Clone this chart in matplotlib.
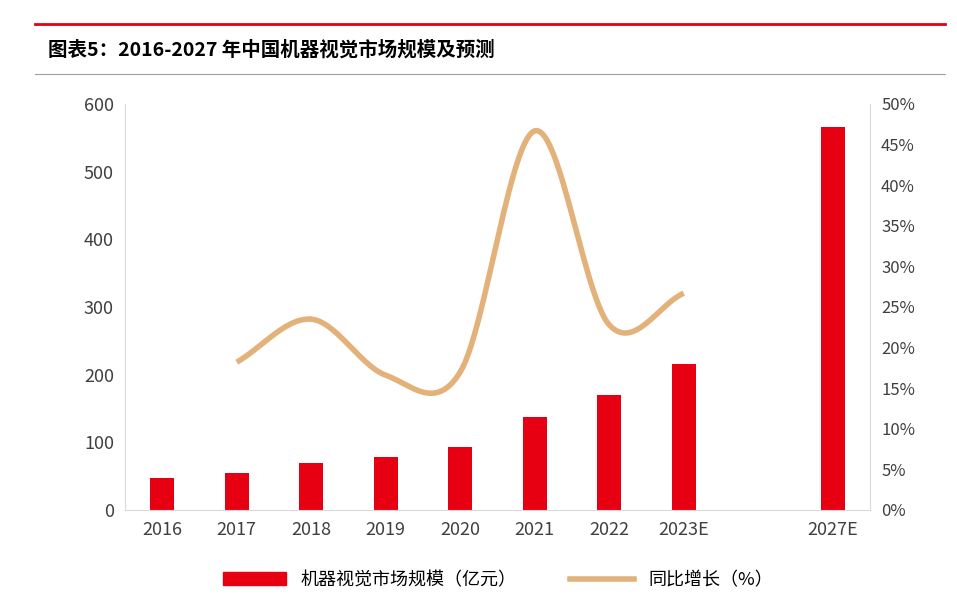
import numpy as np
import matplotlib.pyplot as plt
from matplotlib.lines import Line2D
from matplotlib.patches import Patch

plt.rcParams['font.family'] = ['Noto Sans CJK SC', 'DejaVu Sans']

categories = ["2016", "2017", "2018", "2019", "2020", "2021", "2022", "2023E", "", "2027E"]
market_size = [47, 54, 69, 79, 93, 138, 170, 216, None, 566]
growth_years = ["2017", "2018", "2019", "2020", "2021", "2022", "2023E"]
growth_pct = [18.2, 23.5, 16.6, 17.0, 46.7, 22.8, 26.7]

RED = "#e60012"
TAN = "#e3b27a"


def catmull_rom(xs, ys, n=30):
    xs = np.asarray(xs, float)
    ys = np.asarray(ys, float)
    px = np.concatenate([[2 * xs[0] - xs[1]], xs, [2 * xs[-1] - xs[-2]]])
    py = np.concatenate([[2 * ys[0] - ys[1]], ys, [2 * ys[-1] - ys[-2]]])
    out_x, out_y = [], []
    t = np.linspace(0, 1, n)
    for i in range(1, len(px) - 2):
        for p, out in ((px, out_x), (py, out_y)):
            p0, p1, p2, p3 = p[i - 1:i + 3]
            out.extend(0.5 * (2 * p1 + (-p0 + p2) * t + (2 * p0 - 5 * p1 + 4 * p2 - p3) * t ** 2
                              + (-p0 + 3 * p1 - 3 * p2 + p3) * t ** 3))
    return np.array(out_x), np.array(out_y)


fig = plt.figure(figsize=(9.57, 6.04), dpi=100)
ax = fig.add_axes([125 / 957, 1 - 510 / 604, 745 / 957, 406 / 604])
ax2 = ax.twinx()

x = np.arange(len(categories))
vals = [v if v is not None else 0 for v in market_size]
ax.bar(x, vals, width=0.32, color=RED)
ax.set_xlim(-0.5, len(categories) - 0.5)
ax.set_ylim(0, 600)
ax.set_yticks(range(0, 601, 100))
ax.set_xticks(x)
ax.set_xticklabels(categories)

gx = [categories.index(c) for c in growth_years]
sx, sy = catmull_rom(gx, growth_pct)
ax2.plot(sx, sy, color=TAN, lw=4, solid_capstyle="butt")
ax2.set_ylim(0, 50)
ax2.set_yticks(range(0, 51, 5))
ax2.set_yticklabels([f"{v}%" for v in range(0, 51, 5)])

for a in (ax, ax2):
    for s in a.spines.values():
        s.set_visible(False)
    a.tick_params(length=0, labelsize=13, colors="#404040", pad=8)
ax.spines["bottom"].set_visible(True)
ax.spines["bottom"].set_color("#d9d9d9")
ax.spines["left"].set_visible(True)
ax.spines["left"].set_color("#d9d9d9")
ax2.spines["right"].set_visible(True)
ax2.spines["right"].set_color("#d9d9d9")
ax2.tick_params(labelsize=12)

# title bar
fig.add_artist(Line2D([35 / 957, 945 / 957], [1 - 24 / 604] * 2, color=RED, lw=2))
fig.add_artist(Line2D([35 / 957, 945 / 957], [1 - 74 / 604] * 2, color="#a0a0a0", lw=0.8))
fig.text(48 / 957, 1 - 50 / 604, "图表5：2016-2027 年中国机器视觉市场规模及预测",
         fontsize=14, fontweight="bold", va="center", ha="left")

fig.legend(handles=[Patch(color=RED, label="机器视觉市场规模（亿元）"),
                    Line2D([], [], color=TAN, lw=4, label="同比增长（%）")],
           loc="center", bbox_to_anchor=(0.52, 1 - 580 / 604), ncol=2, frameon=False,
           fontsize=13, handlelength=3.5, columnspacing=3)

fig.savefig("out.png", dpi=100)
